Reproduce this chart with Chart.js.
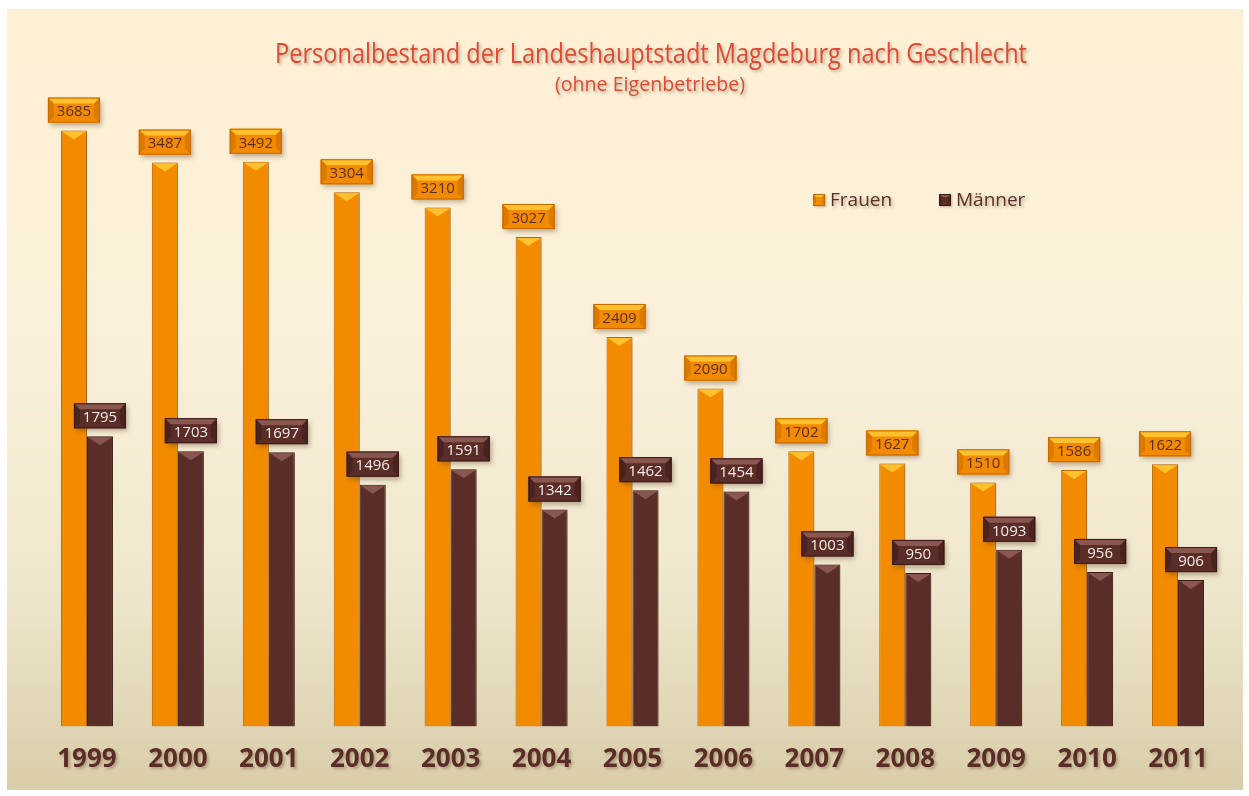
<!DOCTYPE html>
<html>
<head>
<meta charset="utf-8">
<script src="https://cdn.jsdelivr.net/npm/chart.js@4"></script>
<style>
  html, body { margin: 0; padding: 0; background: #fff; overflow: hidden; }
  canvas { display: block; }
</style>
</head>
<body>
<canvas id="chart" width="1249" height="796"></canvas>
<script>
// Personalbestand der Landeshauptstadt Magdeburg
const years = ['1999', '2000', '2001', '2002', '2003', '2004', '2005', '2006', '2007', '2008', '2009', '2010', '2011'];
const frauen = [3685, 3487, 3492, 3304, 3210, 3027, 2409, 2090, 1702, 1627, 1510, 1586, 1622];
const maenner = [1795, 1703, 1697, 1496, 1591, 1342, 1462, 1454, 1003, 950, 1093, 956, 906];

const titleText = 'Personalbestand der Landeshauptstadt Magdeburg nach Geschlecht';
const subtitleText = '(ohne Eigenbetriebe)';

const FONT = "'Open Sans', 'DejaVu Sans', sans-serif";
const BROWN = '#5A2D28';
const TITLE_RED = '#DD4A33';

const styles = [
    { fill: '#F28B00', edge: '#C46A00', bevel: '#FFC22E', side: '#DC7A00', text: '#5A2D28' },
    { fill: '#5B2D29', edge: '#3C1B18', bevel: '#8A5650', side: '#4A2320', text: '#F6ECE6' }
];

function textShadow(ctx) {
    ctx.shadowColor = 'rgba(90, 60, 30, 0.35)';
    ctx.shadowBlur = 3;
    ctx.shadowOffsetX = 2;
    ctx.shadowOffsetY = 2;
}

// panel background + shadow for texts
const backdrop = {
    id: 'backdrop',
    beforeDraw(chart) {
        const ctx = chart.ctx;
        ctx.save();
        ctx.fillStyle = '#ffffff';
        ctx.fillRect(0, 0, chart.width, chart.height);
        const g = ctx.createLinearGradient(0, 9, 0, 790);
        g.addColorStop(0, '#FFF0D5');
        g.addColorStop(0.45, '#FAF0DA');
        g.addColorStop(0.75, '#EEE6CC');
        g.addColorStop(1, '#D9CDA9');
        ctx.fillStyle = g;
        ctx.fillRect(7, 9, 1236, 781);
        ctx.restore();
        // axis labels get a soft shadow
        textShadow(ctx);
    },
    beforeDatasetsDraw(chart) {
        const ctx = chart.ctx;
        ctx.shadowColor = 'rgba(80, 50, 20, 0.35)';
        ctx.shadowBlur = 5;
        ctx.shadowOffsetX = 2;
        ctx.shadowOffsetY = 2;
    },
    afterDatasetsDraw(chart) {
        const ctx = chart.ctx;
        ctx.shadowColor = 'transparent';
        ctx.shadowBlur = 0;
        ctx.shadowOffsetX = 0;
        ctx.shadowOffsetY = 0;
    }
};

// condensed title, squeezed to the width of the original
function squeezedText(ctx, text, cx, cy, size, width) {
    ctx.save();
    ctx.font = size + 'px ' + FONT;
    const w = ctx.measureText(text).width;
    ctx.translate(cx, cy);
    ctx.scale(width / w, 1);
    ctx.textAlign = 'center';
    ctx.textBaseline = 'middle';
    ctx.fillText(text, 0, 0);
    ctx.restore();
}

const titleBlock = {
    id: 'titleBlock',
    afterDraw(chart) {
        const ctx = chart.ctx;
        ctx.save();
        textShadow(ctx);
        ctx.fillStyle = TITLE_RED;
        squeezedText(ctx, titleText, 651, 55, 27, 752);
        squeezedText(ctx, subtitleText, 650, 85, 20, 190);
        ctx.restore();
    }
};

function bevelBox(ctx, x, y, w, h, st, b) {
    ctx.fillStyle = st.fill;
    ctx.fillRect(x, y, w, h);
    // side bevels
    ctx.fillStyle = st.side;
    ctx.beginPath();
    ctx.moveTo(x, y); ctx.lineTo(x + b, y + b); ctx.lineTo(x + b, y + h - b); ctx.lineTo(x, y + h);
    ctx.closePath(); ctx.fill();
    ctx.beginPath();
    ctx.moveTo(x + w, y); ctx.lineTo(x + w - b, y + b); ctx.lineTo(x + w - b, y + h - b); ctx.lineTo(x + w, y + h);
    ctx.closePath(); ctx.fill();
    // top highlight
    ctx.fillStyle = st.bevel;
    ctx.beginPath();
    ctx.moveTo(x, y); ctx.lineTo(x + w, y); ctx.lineTo(x + w - b, y + b); ctx.lineTo(x + b, y + b);
    ctx.closePath(); ctx.fill();
    ctx.strokeStyle = st.edge;
    ctx.lineWidth = 1;
    ctx.strokeRect(x + 0.5, y + 0.5, w - 1, h - 1);
}

// bevel tops of bars and the value boxes
const barDecor = {
    id: 'barDecor',
    afterDatasetsDraw(chart) {
        const ctx = chart.ctx;
        ctx.save();
        chart.data.datasets.forEach((ds, di) => {
            const st = styles[di];
            chart.getDatasetMeta(di).data.forEach((bar, i) => {
                const w = bar.width;
                const left = bar.x - w / 2;
                // top bevel of the bar
                ctx.fillStyle = st.bevel;
                ctx.beginPath();
                ctx.moveTo(left + 1, bar.y + 1);
                ctx.lineTo(left + w - 1, bar.y + 1);
                ctx.lineTo(bar.x, bar.y + 9);
                ctx.closePath();
                ctx.fill();
                // value box
                const bw = 52, bh = 25;
                const bx = bar.x - bw / 2, by = bar.y - 8 - bh;
                ctx.save();
                ctx.shadowColor = 'rgba(80, 50, 20, 0.4)';
                ctx.shadowBlur = 5;
                ctx.shadowOffsetX = 2;
                ctx.shadowOffsetY = 3;
                ctx.fillStyle = st.fill;
                ctx.fillRect(bx, by, bw, bh);
                ctx.restore();
                bevelBox(ctx, bx, by, bw, bh, st, 6);
                ctx.fillStyle = st.text;
                ctx.font = '15px ' + FONT;
                ctx.textAlign = 'center';
                ctx.textBaseline = 'middle';
                ctx.fillText(String(ds.data[i]), bar.x, by + bh / 2 + 2);
            });
        });
        ctx.restore();
    }
};

// legend placed inside the plot like in the original
const legendBox = {
    id: 'legendBox',
    afterDraw(chart) {
        const ctx = chart.ctx;
        ctx.save();
        const items = [{ x: 813, ds: 0 }, { x: 939, ds: 1 }];
        items.forEach(it => {
            const st = styles[it.ds];
            ctx.shadowColor = 'rgba(80, 50, 20, 0.35)';
            ctx.shadowBlur = 2;
            ctx.shadowOffsetX = 1;
            ctx.shadowOffsetY = 1;
            ctx.fillStyle = st.fill;
            ctx.fillRect(it.x, 194, 12, 12);
            ctx.shadowColor = 'transparent';
            bevelBox(ctx, it.x, 194, 12, 12, st, 3);
            textShadow(ctx);
            ctx.fillStyle = BROWN;
            ctx.font = '19px ' + FONT;
            ctx.textAlign = 'left';
            ctx.textBaseline = 'middle';
            ctx.fillText(chart.data.datasets[it.ds].label, it.x + 17, 201);
        });
        ctx.restore();
    }
};

new Chart(document.getElementById('chart'), {
    type: 'bar',
    data: {
        labels: years,
        datasets: [
            { label: 'Frauen', data: frauen, backgroundColor: styles[0].fill, borderColor: styles[0].edge, borderWidth: 1 },
            { label: 'Männer', data: maenner, backgroundColor: styles[1].fill, borderColor: styles[1].edge, borderWidth: 1 }
        ]
    },
    options: {
        responsive: false,
        devicePixelRatio: 1,
        animation: false,
        layout: { padding: { top: 112, left: 41.5, right: 25.5, bottom: 3.4 } },
        datasets: { bar: { barPercentage: 1, categoryPercentage: 0.572 } },
        plugins: {
            legend: { display: false },
            tooltip: { enabled: false },
            title: { display: false }
        },
        scales: {
            x: {
                grid: { display: false, drawTicks: false },
                border: { display: false },
                ticks: { color: BROWN, font: { family: FONT, size: 26, weight: 'bold' }, padding: 17.4 }
            },
            y: { display: false, min: 0, max: 3800 }
        }
    },
    plugins: [backdrop, barDecor, legendBox, titleBlock]
});
</script>
</body>
</html>
